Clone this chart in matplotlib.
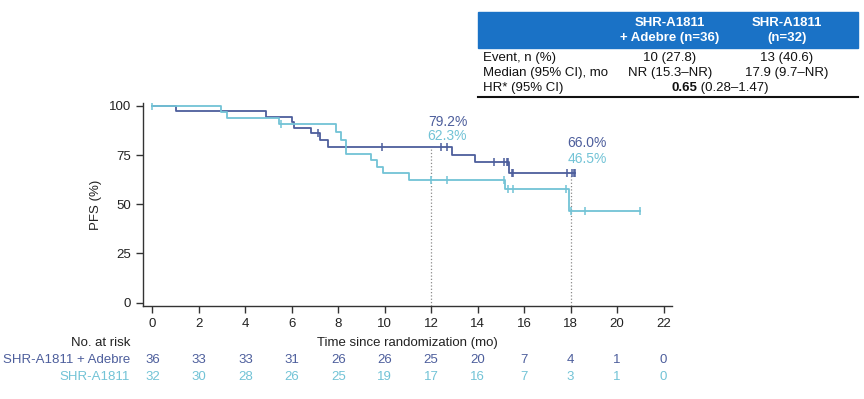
import matplotlib.pyplot as plt
import numpy as np
from matplotlib.patches import Rectangle
from matplotlib.lines import Line2D

# Kaplan-Meier steps
combo_t = [0, 1.0, 4.9, 6.0, 6.1, 6.83, 7.2, 7.58, 12.9, 13.9, 15.35]
combo_s = [100, 97.2, 94.4, 91.7, 88.9, 86.1, 82.8, 79.2, 75.2, 71.4, 66.0]
combo_end = 18.2
combo_cens = [7.15, 9.87, 12.4, 12.7, 14.7, 15.14, 15.25, 15.3, 15.46, 15.52,
              17.85, 18.05, 18.13, 18.2]

mono_t = [0, 2.95, 3.2, 5.45, 7.9, 8.12, 8.33, 9.4, 9.66, 9.91, 11.03, 15.17, 17.92]
mono_s = [100, 96.9, 93.8, 90.6, 86.6, 82.7, 75.8, 72.3, 69.0, 65.8, 62.3, 57.8, 46.5]
mono_end = 21.0
mono_cens = [0.0, 5.55, 12.0, 12.67, 15.14, 15.29, 15.5, 17.8, 18.0, 18.6, 21.0]

risk_times = [0, 2, 4, 6, 8, 10, 12, 14, 16, 18, 20, 22]
risk_combo = [36, 33, 33, 31, 26, 26, 25, 20, 7, 4, 1, 0]
risk_mono = [32, 30, 28, 26, 25, 19, 17, 16, 7, 3, 1, 0]

combo_name = "SHR-A1811 + Adebre"
mono_name = "SHR-A1811"

dark = "#4D5E9C"
light = "#72C3D6"
fs = 9.5

W, H = 864, 399
fig = plt.figure(figsize=(W / 100, H / 100), dpi=100)
plt.rcParams['font.family'] = ['Liberation Sans', 'DejaVu Sans']


def fx(x):
    return x / W


def fy(y):
    return 1 - y / H


ax = fig.add_axes([fx(143), fy(306), fx(672) - fx(143), fy(103) - fy(306)])


def surv_at(ts, ss, t):
    i = np.searchsorted(ts, t, side='right') - 1
    return ss[i]


for ts, ss, end, cens, col in [(combo_t, combo_s, combo_end, combo_cens, dark),
                               (mono_t, mono_s, mono_end, mono_cens, light)]:
    xs = list(ts) + [end]
    ys = list(ss) + [ss[-1]]
    ax.step(xs, ys, where='post', color=col, lw=1.3, zorder=3)
    cy = [surv_at(ts, ss, c) for c in cens]
    ax.plot(cens, cy, ls='none', marker='|', ms=6, mew=1.1, color=col, zorder=4)

# dotted guides at 12 and 18 months
ax.plot([12, 12], [-1.7, 79.2], ls=':', color='#8a8a8a', lw=0.9, zorder=2)
ax.plot([18, 18], [-1.7, 66.0], ls=':', color='#8a8a8a', lw=0.9, zorder=2)

ax.text(12.7, 92, "79.2%", color=dark, fontsize=10, ha='center', va='center')
ax.text(12.7, 84.7, "62.3%", color=light, fontsize=10, ha='center', va='center')
ax.text(18.7, 81, "66.0%", color=dark, fontsize=10, ha='center', va='center')
ax.text(18.7, 72.9, "46.5%", color=light, fontsize=10, ha='center', va='center')

ax.set_xlim(-0.4, 22.36)
ax.set_ylim(-1.7, 101.5)
ax.set_xticks(risk_times)
ax.set_yticks([0, 25, 50, 75, 100])
ax.spines['top'].set_visible(False)
ax.spines['right'].set_visible(False)
for s in ['left', 'bottom']:
    ax.spines[s].set_color('#333333')
    ax.spines[s].set_linewidth(1.0)
ax.tick_params(length=5, width=1.0, color='#333333', labelsize=fs, labelcolor='#222222')
ax.set_ylabel("PFS (%)", fontsize=fs, color='#222222')
ax.yaxis.set_label_coords(-0.077, 0.5)
ax.set_xlabel("Time since randomization (mo)", fontsize=fs, color='#222222', labelpad=5)

# number at risk
fig.text(fx(130), fy(343), "No. at risk", ha='right', va='center', fontsize=fs, color='#222222')
fig.text(fx(130), fy(360), combo_name, ha='right', va='center', fontsize=fs, color=dark)
fig.text(fx(130), fy(377), mono_name, ha='right', va='center', fontsize=fs, color=light)
for t, a, b in zip(risk_times, risk_combo, risk_mono):
    xf = fx(152.7 + t * 23.2)
    fig.text(xf, fy(360), str(a), ha='center', va='center', fontsize=fs, color=dark)
    fig.text(xf, fy(377), str(b), ha='center', va='center', fontsize=fs, color=light)

# summary table
fig.patches.append(Rectangle((fx(478), fy(48)), fx(858) - fx(478), fy(12) - fy(48),
                             transform=fig.transFigure, color='#1A72C6', zorder=1))
fig.text(fx(670), fy(23), "SHR-A1811", ha='center', va='center', fontsize=fs,
         color='white', fontweight='bold')
fig.text(fx(670), fy(38), "+ Adebre (n=36)", ha='center', va='center', fontsize=fs,
         color='white', fontweight='bold')
fig.text(fx(787), fy(23), "SHR-A1811", ha='center', va='center', fontsize=fs,
         color='white', fontweight='bold')
fig.text(fx(787), fy(38), "(n=32)", ha='center', va='center', fontsize=fs,
         color='white', fontweight='bold')

row_labels = ["Event, n (%)", "Median (95% CI), mo", "HR* (95% CI)"]
col_combo = ["10 (27.8)", "NR (15.3\u2013NR)"]
col_mono = ["13 (40.6)", "17.9 (9.7\u2013NR)"]
row_y = [58, 73, 88]
for lab, y in zip(row_labels, row_y):
    fig.text(fx(483), fy(y), lab, ha='left', va='center', fontsize=fs, color='#111111')
for v, y in zip(col_combo, row_y):
    fig.text(fx(670), fy(y), v, ha='center', va='center', fontsize=fs, color='#111111')
for v, y in zip(col_mono, row_y):
    fig.text(fx(787), fy(y), v, ha='center', va='center', fontsize=fs, color='#111111')
fig.text(fx(697), fy(88), "0.65", ha='right', va='center', fontsize=fs,
         color='#111111', fontweight='bold')
fig.text(fx(697), fy(88), " (0.28\u20131.47)", ha='left', va='center', fontsize=fs,
         color='#111111')
fig.lines.append(Line2D([fx(478), fx(858)], [fy(97), fy(97)], transform=fig.transFigure,
                        color='#111111', lw=1.5))

fig.savefig("out.png", dpi=100)
